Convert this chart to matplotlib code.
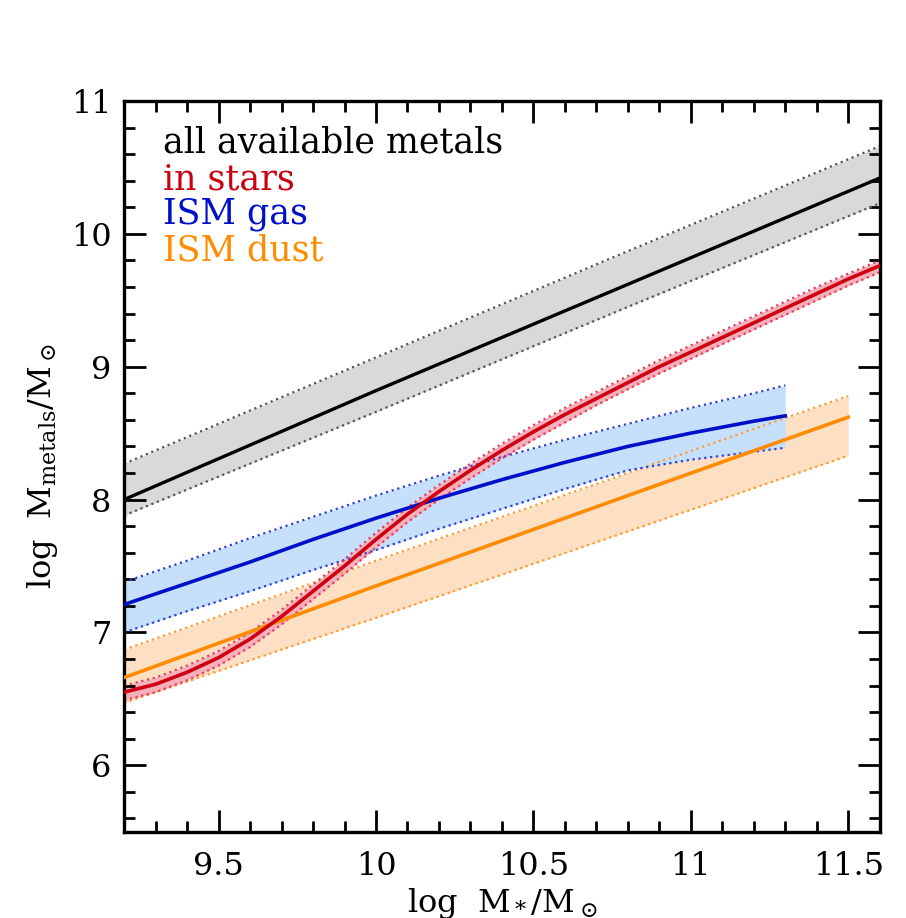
import numpy as np
import matplotlib.pyplot as plt
from matplotlib.ticker import MultipleLocator

plt.rcParams['font.family'] = ['DejaVu Serif']
plt.rcParams['mathtext.fontset'] = 'dejavuserif'

# all available metals (black)
x_all = [9.2, 10.0, 10.8, 11.6]
all_mid = [8.00, 8.82, 9.62, 10.42]
all_hi = [8.27, 9.07, 9.87, 10.66]
all_lo = [7.88, 8.66, 9.45, 10.23]

# in stars (red)
x_star = [9.2, 9.3, 9.4, 9.5, 9.6, 9.7, 9.8, 9.9, 10.0, 10.1, 10.2, 10.3, 10.4,
          10.5, 10.6, 10.7, 10.8, 10.9, 11.0, 11.1, 11.2, 11.3, 11.4, 11.5, 11.6]
star_mid = [6.55, 6.61, 6.70, 6.81, 6.95, 7.12, 7.31, 7.50, 7.70, 7.89, 8.06, 8.22, 8.37,
            8.51, 8.64, 8.76, 8.88, 9.00, 9.11, 9.22, 9.33, 9.44, 9.55, 9.66, 9.76]
star_hi = [6.60, 6.66, 6.75, 6.86, 7.00, 7.17, 7.36, 7.55, 7.75, 7.94, 8.11, 8.27, 8.42,
           8.56, 8.69, 8.81, 8.93, 9.05, 9.16, 9.27, 9.38, 9.49, 9.60, 9.70, 9.80]
star_lo = [6.49, 6.55, 6.64, 6.75, 6.89, 7.06, 7.25, 7.44, 7.64, 7.83, 8.00, 8.16, 8.31,
           8.45, 8.58, 8.71, 8.83, 8.95, 9.06, 9.17, 9.28, 9.39, 9.50, 9.61, 9.71]

# ISM gas (blue)
x_gas = [9.2, 9.4, 9.6, 9.8, 10.0, 10.2, 10.4, 10.6, 10.8, 11.0, 11.2, 11.3]
gas_mid = [7.21, 7.37, 7.53, 7.70, 7.86, 8.01, 8.15, 8.28, 8.40, 8.50, 8.59, 8.63]
gas_hi = [7.38, 7.54, 7.71, 7.87, 8.03, 8.18, 8.32, 8.45, 8.57, 8.69, 8.80, 8.86]
gas_lo = [7.00, 7.16, 7.31, 7.47, 7.62, 7.78, 7.93, 8.08, 8.22, 8.30, 8.36, 8.39]

# ISM dust (orange)
x_dust = [9.2, 10.0, 10.8, 11.5]
dust_mid = [6.66, 7.35, 8.03, 8.62]
dust_hi = [6.87, 7.54, 8.20, 8.78]
dust_lo = [6.47, 7.11, 7.76, 8.33]

fig = plt.figure(figsize=(9.06, 9.18), dpi=100)
ax = fig.add_axes([0.137, 0.094, 0.834, 0.796])

# bands
ax.fill_between(x_dust, dust_lo, dust_hi, color='#fde0c4', lw=0, zorder=1)
ax.fill_between(x_gas, gas_lo, gas_hi, color='#c6dffa', lw=0, zorder=1.1)
ax.fill_between(x_all, all_lo, all_hi, color='#d9d9d9', lw=0, zorder=1.2)
ax.fill_between(x_star, star_lo, star_hi, color='#f6b0bc', lw=0, zorder=1.3)

# dotted edges
for xs, lo, hi, c in [(x_dust, dust_lo, dust_hi, '#ff9a30'),
                      (x_gas, gas_lo, gas_hi, '#3040d8'),
                      (x_all, all_lo, all_hi, '#555555'),
                      (x_star, star_lo, star_hi, '#e0405a')]:
    ax.plot(xs, lo, ls=':', color=c, lw=1.6, zorder=2)
    ax.plot(xs, hi, ls=':', color=c, lw=1.6, zorder=2)

# central lines
ax.plot(x_all, all_mid, color='black', lw=2.4, zorder=3)
ax.plot(x_dust, dust_mid, color='#ff8c00', lw=2.6, zorder=3)
ax.plot(x_gas, gas_mid, color='#0010c8', lw=2.6, zorder=3)
ax.plot(x_star, star_mid, color='#cc0010', lw=2.6, zorder=3.5)

ax.set_xlim(9.2, 11.6)
ax.set_ylim(5.5, 11)
ax.xaxis.set_minor_locator(MultipleLocator(0.1))
ax.yaxis.set_minor_locator(MultipleLocator(0.2))
ax.set_xticks([9.5, 10, 10.5, 11, 11.5])
ax.set_xticklabels(['9.5', '10', '10.5', '11', '11.5'])
ax.set_yticks([6, 7, 8, 9, 10, 11])
ax.set_yticklabels(['6', '7', '8', '9', '10', '11'])

ax.tick_params(which='both', direction='in', top=True, right=True, width=2)
ax.tick_params(which='major', length=16, labelsize=23)
ax.tick_params(axis='x', which='major', pad=14)
ax.tick_params(axis='y', which='major', pad=9)
ax.tick_params(which='minor', length=8)
for sp in ax.spines.values():
    sp.set_linewidth(2.4)

ax.set_xlabel(r'log  M$_*$/M$_\odot$', fontsize=23, labelpad=3)
ax.set_ylabel(r'log  M$_{\rm metals}$/M$_\odot$', fontsize=23, labelpad=8)

labels = ['all available metals', 'in stars', 'ISM gas', 'ISM dust']
colors = ['black', '#cc0010', '#0010c8', '#ff8c00']
ys = [0.943, 0.893, 0.845, 0.795]
for lab, c, yy in zip(labels, colors, ys):
    ax.text(0.052, yy, lab, color=c, fontsize=25, transform=ax.transAxes,
            va='center', ha='left')

plt.savefig('out.png', dpi=100)
